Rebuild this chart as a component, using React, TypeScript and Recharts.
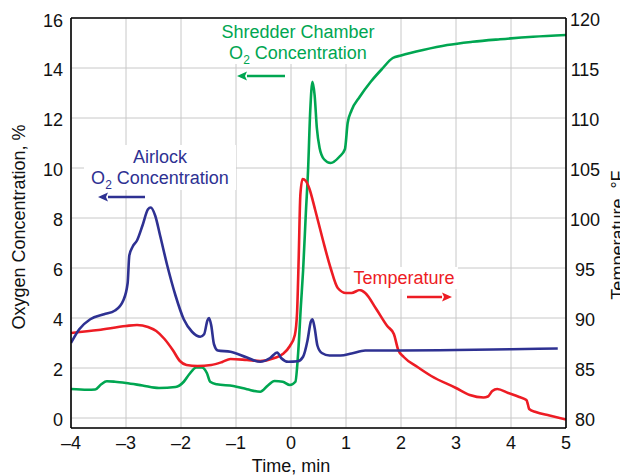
import React from 'react';
import { LineChart, Line, XAxis, YAxis, CartesianGrid, ReferenceLine } from 'recharts';

const timeTicks = [-4, -3, -2, -1, 0, 1, 2, 3, 4, 5];
const o2Ticks = [0, 2, 4, 6, 8, 10, 12, 14, 16];
const tempTicks = [80, 85, 90, 95, 100, 105, 110, 115, 120];

const airlockTime = [-4, -3.85, -3.65, -3.4, -3.2, -3.05, -2.97, -2.94, -2.88, -2.8, -2.7, -2.6, -2.55, -2.47, -2.38, -2.25, -2.1, -1.95, -1.8, -1.65, -1.58, -1.52, -1.49, -1.45, -1.4, -1.33, -1.1, -0.8, -0.56, -0.38, -0.25, -0.18, -0.05, 0.12, 0.22, 0.3, 0.36, 0.39, 0.43, 0.48, 0.56, 0.7, 0.9, 1.1, 1.35, 2, 3, 4, 4.85];
const airlockO2 = [3.0, 3.55, 3.95, 4.15, 4.3, 4.7, 5.4, 6.5, 6.85, 7.1, 7.7, 8.35, 8.42, 8.1, 7.3, 6.1, 4.9, 3.95, 3.45, 3.25, 3.35, 3.9, 4.0, 3.7, 2.95, 2.7, 2.65, 2.42, 2.25, 2.4, 2.62, 2.4, 2.25, 2.27, 2.45, 3.1, 3.85, 3.95, 3.6, 2.9, 2.6, 2.5, 2.5, 2.58, 2.7, 2.7, 2.72, 2.75, 2.78];

const tempTime = [-4, -3.5, -3, -2.8, -2.6, -2.45, -2.3, -2.15, -2.02, -1.9, -1.7, -1.45, -1.25, -1.1, -0.8, -0.56, -0.3, -0.15, -0.02, 0.07, 0.11, 0.14, 0.17, 0.21, 0.27, 0.33, 0.44, 0.58, 0.72, 0.85, 1.0, 1.1, 1.25, 1.35, 1.55, 1.75, 1.87, 1.95, 2.05, 2.3, 2.55, 3.0, 3.25, 3.5, 3.58, 3.66, 3.75, 3.95, 4.15, 4.28, 4.31, 4.33, 4.45, 4.7, 5];
const temperature = [88.5, 88.8, 89.2, 89.3, 89.1, 88.7, 87.9, 86.8, 85.7, 85.3, 85.2, 85.3, 85.6, 85.9, 85.8, 85.7, 86.0, 86.4, 87.2, 88.3, 90.5, 96, 102.3, 103.9, 103.7, 103.0, 100.8, 97.8, 95, 93, 92.5, 92.5, 92.8, 92.5, 90.9, 89.2, 88.4, 86.8, 86.1, 85.1, 84.2, 83.0, 82.3, 82.05, 82.15, 82.7, 82.9, 82.5, 82.1, 81.8, 81.3, 80.9, 80.6, 80.25, 79.85];

const shredTime = [-4, -3.7, -3.56, -3.45, -3.35, -3.2, -3.0, -2.7, -2.4, -2.1, -1.95, -1.85, -1.72, -1.62, -1.53, -1.47, -1.35, -1.05, -0.8, -0.56, -0.42, -0.3, -0.15, -0.02, 0.08, 0.13, 0.18, 0.22, 0.27, 0.31, 0.35, 0.39, 0.43, 0.47, 0.52, 0.6, 0.72, 0.88, 0.98, 1.03, 1.1, 1.25, 1.45, 1.65, 1.85, 2.0, 2.4, 2.84, 3.3, 3.8, 4.4, 5];
const shredO2 = [1.16, 1.13, 1.14, 1.35, 1.47, 1.45, 1.4, 1.3, 1.2, 1.24, 1.45, 1.75, 2.02, 2.02, 1.8, 1.45, 1.35, 1.28, 1.15, 1.05, 1.3, 1.48, 1.45, 1.32, 1.45, 2.6, 4.5, 5.9, 8.2, 9.9, 12.3, 13.45, 12.9, 11.6, 10.8, 10.35, 10.2, 10.45, 10.75, 11.8, 12.3, 12.85, 13.45, 13.95, 14.4, 14.5, 14.72, 14.92, 15.05, 15.15, 15.25, 15.32];

const zip = (xs: number[], ys: number[]) => xs.map((x, i) => ({ x, y: ys[i] }));
const airlockData = zip(airlockTime, airlockO2);
const tempData = zip(tempTime, temperature);
const shredData = zip(shredTime, shredO2);

const GREEN = '#00a651';
const RED = '#ed1c24';
const BLUE = '#2e3192';
const FONT = '"Liberation Sans", Arial, Helvetica, sans-serif';

const RightTick = (props: any) => {
  const { x, y, payload } = props;
  return (
    <text x={x + 19} y={y + 8} textAnchor="middle" fontSize={18} fill="#111" fontFamily={FONT}>
      {payload.value}
    </text>
  );
};

const fmtMinus = (v: number) => String(v).replace('-', '\u2013');

const O2Text = ({ x, y, color }: { x: number; y: number; color: string }) => (
  <text x={x} y={y} textAnchor="middle" fontSize={18} fill={color} fontFamily={FONT}>
    <tspan>O</tspan>
    <tspan fontSize={12} dy={5}>2</tspan>
    <tspan dy={-5}> Concentration</tspan>
  </text>
);

const Arrow = ({ x1, x2, y, color }: { x1: number; x2: number; y: number; color: string }) => {
  const dir = x2 > x1 ? 1 : -1;
  const base = x2 - dir * 10;
  return (
    <g>
      <line x1={x1} y1={y} x2={base} y2={y} stroke={color} strokeWidth={2.5} />
      <polygon points={`${x2},${y} ${base},${y - 4.5} ${base + dir * 2},${y} ${base},${y + 4.5}`} fill={color} />
    </g>
  );
};

export default function App() {
  return (
    <div style={{ position: 'relative', width: 620, height: 467, fontFamily: FONT }}>
      <LineChart width={620} height={467} margin={{ top: 10, right: 12, bottom: 0, left: 0 }}>
        <CartesianGrid yAxisId="left" stroke="#c8c8c8" strokeWidth={1} />
        <XAxis
          dataKey="x"
          type="number"
          domain={[-4, 5]}
          ticks={timeTicks}
          tickFormatter={fmtMinus}
          allowDataOverflow
          height={47}
          tickLine={false}
          axisLine={{ stroke: '#000', strokeWidth: 1.6 }}
          tick={{ fontSize: 18, fill: '#111', fontFamily: FONT }}
        />
        <YAxis
          yAxisId="left"
          type="number"
          domain={[-0.4, 16]}
          ticks={o2Ticks}
          allowDataOverflow
          width={63}
          tickLine={false}
          axisLine={{ stroke: '#000', strokeWidth: 1.6 }}
          tick={{ fontSize: 18, fill: '#111', fontFamily: FONT, dy: 2 }}
        />
        <YAxis
          yAxisId="right"
          orientation="right"
          type="number"
          domain={[79, 120]}
          ticks={tempTicks}
          allowDataOverflow
          width={50}
          tickLine={false}
          tickSize={0}
          tickMargin={0}
          axisLine={{ stroke: '#000', strokeWidth: 1.6 }}
          tick={<RightTick />}
        />
        <ReferenceLine yAxisId="left" y={16} stroke="#000" strokeWidth={1.6} />
        <Line yAxisId="left" data={shredData} dataKey="y" type="monotone" stroke={GREEN} strokeWidth={2.6} dot={false} activeDot={false} isAnimationActive={false} />
        <Line yAxisId="right" data={tempData} dataKey="y" type="monotone" stroke={RED} strokeWidth={2.6} dot={false} activeDot={false} isAnimationActive={false} />
        <Line yAxisId="left" data={airlockData} dataKey="y" type="monotone" stroke={BLUE} strokeWidth={2.6} dot={false} activeDot={false} isAnimationActive={false} />
      </LineChart>
      <svg width={620} height={467} style={{ position: 'absolute', left: 0, top: 0, pointerEvents: 'none' }}>
        <text x={283} y={464} textAnchor="middle" fontSize={18} fill="#111" fontFamily={FONT}>Time, min</text>
        <text transform="translate(17,219) rotate(-90)" textAnchor="middle" fontSize={18} fill="#111" fontFamily={FONT}>Oxygen Concentration, %</text>
        <text transform="translate(616,227) rotate(-90)" textAnchor="middle" fontSize={18} fill="#111" fontFamily={FONT}>Temperature, °F</text>

        <rect x={207} y={11} width={165} height={45} fill="#fff" />
        <text x={290} y={30} textAnchor="middle" fontSize={18} fill={GREEN} fontFamily={FONT}>Shredder Chamber</text>
        <O2Text x={290} y={51} color={GREEN} />
        <Arrow x1={277} x2={229} y={68} color={GREEN} />

        <rect x={76} y={137} width={152} height={45} fill="#fff" />
        <text x={152} y={155} textAnchor="middle" fontSize={18} fill={BLUE} fontFamily={FONT}>Airlock</text>
        <O2Text x={152} y={176} color={BLUE} />
        <Arrow x1={137} x2={90} y={189} color={BLUE} />

        <rect x={342} y={259} width={108} height={22} fill="#fff" />
        <text x={396} y={276} textAnchor="middle" fontSize={18} fill={RED} fontFamily={FONT}>Temperature</text>
        <Arrow x1={399} x2={444} y={289} color={RED} />
      </svg>
    </div>
  );
}
